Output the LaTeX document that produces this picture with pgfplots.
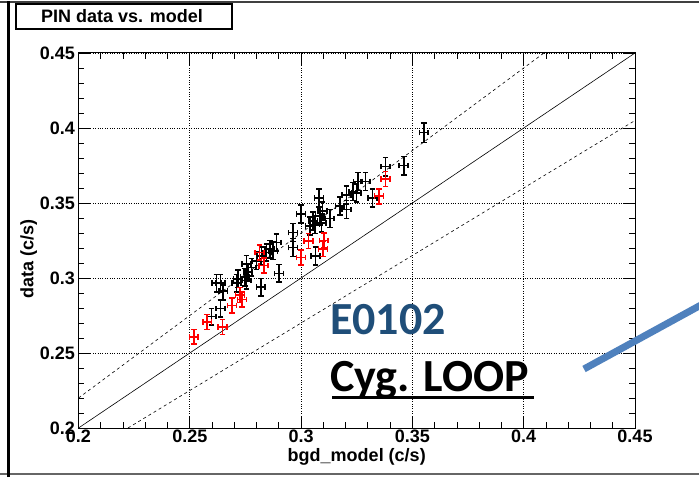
\documentclass[border=0pt]{standalone}
\usepackage{pgfplots}
\pgfplotsset{compat=1.18}
\usepackage{pgfplotstable}
\usepackage{fontspec}
\setmainfont{Liberation Sans}
\newfontfamily\calfont{Carlito}

\definecolor{rootRed}{RGB}{255,0,0}
\definecolor{labelBlue}{RGB}{31,78,121}
\definecolor{arrowBlue}{RGB}{79,129,189}

% x y ex ey
\pgfplotstableread{
x      y      ex     ey
0.3551 0.3969 0.0020 0.0065
0.3461 0.3749 0.0020 0.0062
0.3380 0.3742 0.0020 0.0062
0.3289 0.3643 0.0020 0.0060
0.3256 0.3643 0.0020 0.0060
0.3249 0.3566 0.0020 0.0060
0.3234 0.3577 0.0020 0.0060
0.3204 0.3555 0.0020 0.0060
0.3204 0.3456 0.0020 0.0060
0.3174 0.3478 0.0020 0.0060
0.3320 0.3533 0.0020 0.0060
0.3081 0.3533 0.0020 0.0060
0.3000 0.3428 0.0020 0.0060
0.3096 0.3445 0.0020 0.0060
0.3129 0.3396 0.0020 0.0060
0.3084 0.3412 0.0020 0.0060
0.3054 0.3379 0.0020 0.0060
0.3039 0.3346 0.0020 0.0060
0.3062 0.3357 0.0020 0.0060
0.3091 0.3368 0.0020 0.0060
0.2964 0.3302 0.0020 0.0060
0.2964 0.3203 0.0020 0.0060
0.3064 0.3148 0.0020 0.0060
0.2889 0.3236 0.0020 0.0058
0.2859 0.3192 0.0020 0.0058
0.2874 0.3181 0.0020 0.0058
0.2844 0.3170 0.0020 0.0058
0.2822 0.3148 0.0020 0.0058
0.2799 0.3115 0.0020 0.0058
0.2777 0.3071 0.0020 0.0058
0.2754 0.3093 0.0020 0.0058
0.2762 0.3038 0.0020 0.0058
0.2747 0.3005 0.0020 0.0058
0.2717 0.2994 0.0020 0.0058
0.2710 0.2966 0.0020 0.0058
0.2754 0.2983 0.0020 0.0058
0.2901 0.3031 0.0020 0.0058
0.2819 0.2939 0.0020 0.0058
0.2620 0.2966 0.0020 0.0058
0.2638 0.2966 0.0020 0.0058
0.2650 0.2913 0.0020 0.0058
0.2638 0.2797 0.0020 0.0058
0.2597 0.2742 0.0020 0.0055
}\blackdata

\pgfplotstableread{
x      y      ex     ey
0.2518 0.2608 0.0020 0.0050
0.2578 0.2707 0.0020 0.0050
0.2647 0.2674 0.0020 0.0050
0.2689 0.2817 0.0020 0.0050
0.2726 0.2887 0.0020 0.0050
0.2734 0.2856 0.0020 0.0050
0.2814 0.3170 0.0020 0.0050
0.2832 0.3082 0.0020 0.0050
0.3000 0.3137 0.0020 0.0050
0.3034 0.3247 0.0020 0.0050
0.3102 0.3251 0.0020 0.0050
0.3099 0.3192 0.0020 0.0050
0.3350 0.3545 0.0020 0.0050
0.3380 0.3661 0.0020 0.0050
}\reddata

\pgfplotsset{
    rooterr/.style={
        only marks, mark=*, mark size=0.01pt,
        error bars/.cd,
        x dir=both, x explicit, y dir=both, y explicit,
        error mark=-,
        error bar style={line width=1.6pt},
        error mark options={rotate=90, mark size=2.8pt, line width=1.6pt},
    },
}

\begin{document}
\begin{tikzpicture}[x=1pt,y=1pt]
\useasboundingbox (0,0) rectangle (699,477);
\fill[white] (0,0) rectangle (699,477);

% canvas frame
\draw[line width=2pt, black!75] (0,475) -- (699,475);
\draw[line width=2pt, black!60] (0,3) -- (699,3);
\draw[line width=3pt, black] (8,0) -- (8,476);

\begin{axis}[
    at={(78.5pt,49pt)},
    anchor=south west,
    scale only axis,
    width=556.5pt,
    height=375pt,
    xmin=0.2, xmax=0.45,
    ymin=0.2, ymax=0.45,
    xtick={0.2,0.25,...,0.45},
    ytick={0.2,0.25,...,0.45},
    xticklabels={0.2,0.25,0.3,0.35,0.4,0.45},
    yticklabels={0.2,0.25,0.3,0.35,0.4,0.45},
    minor tick num=4,
    tick align=inside,
    major tick length=12pt,
    minor tick length=6pt,
    axis line style={line width=1pt},
    every tick/.style={black, line width=0.8pt},
    grid=major,
    major grid style={dotted, black, line width=0.7pt},
    tick label style={font=\fontsize{18}{20}\selectfont\bfseries},
    label style={font=\fontsize{18}{20}\selectfont\bfseries},
    xlabel={bgd\_model (c/s)},
    ylabel={data (c/s)},
    xlabel style={yshift=1pt},
    ylabel style={at={(ticklabel cs:0.45)}, yshift=-4pt},
    xticklabel style={yshift=2pt},
    clip=true,
]
% reference lines
\addplot[black, line width=0.6pt] coordinates {(0.2,0.2) (0.45,0.45)};
\addplot[black, line width=0.6pt, dash pattern=on 3pt off 3pt] coordinates {(0.2,0.22) (0.40909,0.45)};
\addplot[black, line width=0.6pt, dash pattern=on 3pt off 3pt] coordinates {(0.22222,0.2) (0.45,0.405)};

\addplot[black, rooterr] table[x=x, y=y, x error=ex, y error=ey] {\blackdata};
\addplot[rootRed, rooterr] table[x=x, y=y, x error=ex, y error=ey] {\reddata};
\end{axis}

% title box
\draw[black, line width=1.2pt, fill=white] (16,448) rectangle (232,473);
\node[font=\fontsize{18}{20}\selectfont\bfseries] at (122,460.5) {PIN data vs. model};

% annotations
\node[anchor=base west, inner sep=0pt, text=labelBlue, font=\calfont\fontsize{46}{50}\selectfont\bfseries] at (330,142) {E0102};
\node[anchor=base west, inner sep=0pt, text=black, font=\calfont\fontsize{46}{50}\selectfont\bfseries] at (330,85) {Cyg. LOOP};
\draw[black, line width=3pt] (332,80) -- (534,80);
\draw[arrowBlue, line width=7pt] (584,108) -- (712,178);
\end{tikzpicture}
\end{document}
